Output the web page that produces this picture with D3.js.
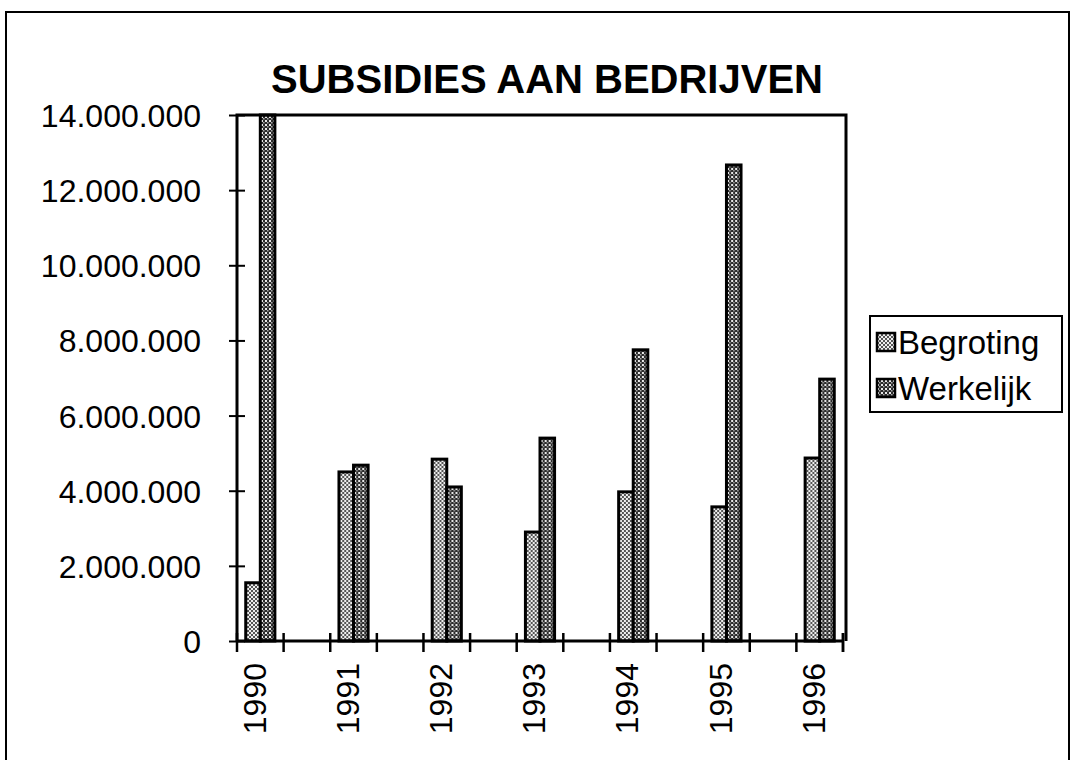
<!DOCTYPE html>
<html>
<head>
<meta charset="utf-8">
<script src="https://cdn.jsdelivr.net/npm/d3@7"></script>
<style>
  body { margin: 0; background: #fff; }
  text { font-family: Arial, "Liberation Sans", sans-serif; fill: #000; }
</style>
</head>
<body>
<svg id="chart"></svg>
<script>
const years = ["1990", "1991", "1992", "1993", "1994", "1995", "1996"];
const seriesNames = ["Begroting", "Werkelijk"];
const begroting = [1550000, 4500000, 4840000, 2900000, 3970000, 3570000, 4870000];
const werkelijk = [14000000, 4680000, 4100000, 5400000, 7750000, 12670000, 6970000];
const yTicks = [0, 2000000, 4000000, 6000000, 8000000, 10000000, 12000000, 14000000];

const svgId = "#chart";
const W = 1072, H = 760;
const plot = { left: 237, top: 115, right: 846, bottom: 641 };
const tickSpan = 606;

const svg = d3.select(svgId).attr("width", W).attr("height", H);

const nl = d3.formatLocale({ decimal: ",", thousands: ".", grouping: [3], currency: ["€", ""] });
const fmt = nl.format(",.0f");

const data = years.map((y, i) => ({ year: y, Begroting: begroting[i], Werkelijk: werkelijk[i] }));

// patterns for the bar fills (scanned dot raster)
const defs = svg.append("defs");
const pB = defs.append("pattern").attr("id", "pat-Begroting")
    .attr("width", 4).attr("height", 4).attr("patternUnits", "userSpaceOnUse");
pB.append("rect").attr("width", 4).attr("height", 4).attr("fill", "#eee");
pB.append("rect").attr("width", 2).attr("height", 2).attr("fill", "#555");
pB.append("rect").attr("x", 2).attr("y", 2).attr("width", 2).attr("height", 2).attr("fill", "#555");

const pW = defs.append("pattern").attr("id", "pat-Werkelijk")
    .attr("width", 4).attr("height", 4).attr("patternUnits", "userSpaceOnUse");
pW.append("rect").attr("width", 4).attr("height", 4).attr("fill", "#2a2a2a");
pW.append("rect").attr("width", 2).attr("height", 2).attr("fill", "#e8e8e8");
pW.append("rect").attr("x", 2).attr("y", 2).attr("width", 1.5).attr("height", 1.5).attr("fill", "#aaa");

// outer frame
svg.append("rect")
    .attr("x", 6).attr("y", 12)
    .attr("width", 1063).attr("height", 780)
    .attr("fill", "none").attr("stroke", "#000").attr("stroke-width", 2);

// scales
const x = d3.scaleBand()
    .domain(years)
    .range([plot.left, plot.left + tickSpan * 14 / 13]);
const half = x.bandwidth() / 2;
const xSub = d3.scaleBand()
    .domain(seriesNames)
    .range([0, half])
    .paddingInner(0)
    .paddingOuter(0.6);
const y = d3.scaleLinear()
    .domain([0, 14000000])
    .range([plot.bottom, plot.top]);

// bars
const groups = svg.append("g").selectAll("g")
    .data(data)
    .join("g")
    .attr("transform", d => `translate(${x(d.year)},0)`);

groups.selectAll("rect")
    .data(d => seriesNames.map(s => ({ key: s, value: d[s] })))
    .join("rect")
    .attr("x", d => xSub(d.key))
    .attr("y", d => y(d.value))
    .attr("width", xSub.bandwidth())
    .attr("height", d => y(0) - y(d.value))
    .attr("fill", d => `url(#pat-${d.key})`)
    .attr("stroke", "#000")
    .attr("stroke-width", 3);

// plot frame
svg.append("path")
    .attr("d", `M${plot.left},${plot.bottom}V${plot.top}H${plot.right}V${plot.bottom}`)
    .attr("fill", "none").attr("stroke", "#000").attr("stroke-width", 3);

// y axis
const yAxis = svg.append("g")
    .attr("transform", `translate(${plot.left},0)`)
    .call(d3.axisLeft(y).tickValues(yTicks).tickFormat(fmt).tickSize(0).tickPadding(36));
yAxis.select(".domain").remove();
yAxis.selectAll("text")
    .style("font-size", "32px")
    .attr("dy", "0.36em");
yAxis.selectAll(".tick").append("line")
    .attr("x1", -8).attr("x2", 8)
    .attr("stroke", "#000").attr("stroke-width", 2);

// x axis
svg.append("line")
    .attr("x1", plot.left).attr("x2", plot.left + tickSpan)
    .attr("y1", plot.bottom).attr("y2", plot.bottom)
    .attr("stroke", "#000").attr("stroke-width", 3);

const xTickPos = years.flatMap(yr => [x(yr), x(yr) + half])
    .concat([plot.left + tickSpan])
    .filter(p => p <= plot.left + tickSpan + 1);
svg.append("g").selectAll("line")
    .data(xTickPos)
    .join("line")
    .attr("x1", d => d).attr("x2", d => d)
    .attr("y1", plot.bottom - 8).attr("y2", plot.bottom + 11)
    .attr("stroke", "#000").attr("stroke-width", 2.5);

svg.append("g").selectAll("text")
    .data(years)
    .join("text")
    .attr("transform", d => `translate(${x(d) + half / 2 - 6},${plot.bottom + 22}) rotate(-90)`)
    .attr("text-anchor", "end")
    .attr("dy", "0.35em")
    .style("font-size", "32px")
    .text(d => d);

// title
svg.append("text")
    .attr("x", 547)
    .attr("y", 93)
    .attr("text-anchor", "middle")
    .style("font-size", "40px")
    .style("font-weight", "bold")
    .text("SUBSIDIES AAN BEDRIJVEN");

// legend
const legend = svg.append("g").attr("transform", "translate(870,316)");
legend.append("rect")
    .attr("width", 192).attr("height", 96)
    .attr("fill", "#fff").attr("stroke", "#000").attr("stroke-width", 2);
const items = legend.selectAll("g.item")
    .data(seriesNames)
    .join("g")
    .attr("class", "item")
    .attr("transform", (d, i) => `translate(7,${26 + i * 46})`);
items.append("rect")
    .attr("x", 0).attr("y", -9)
    .attr("width", 18).attr("height", 18)
    .attr("fill", d => `url(#pat-${d})`)
    .attr("stroke", "#000").attr("stroke-width", 2.5);
items.append("text")
    .attr("x", 21)
    .attr("dy", "0.36em")
    .style("font-size", "33px")
    .text(d => d);
</script>
</body>
</html>
